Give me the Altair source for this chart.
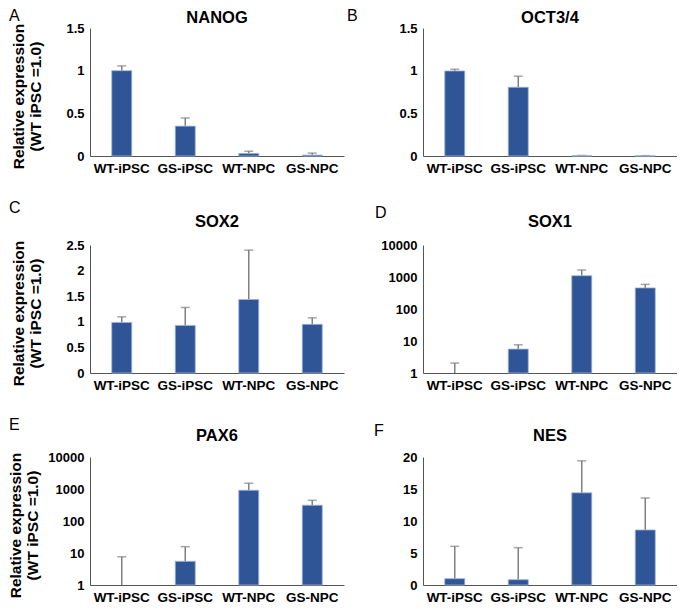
import altair as alt
import pandas as pd

FONT = "Liberation Sans"

categories = ["WT-iPSC", "GS-iPSC", "WT-NPC", "GS-NPC"]

genes = ["NANOG", "OCT3/4", "SOX2", "SOX1", "PAX6", "NES"]
letters = ["A", "B", "C", "D", "E", "F"]

nanog_mean = [1.0, 0.35, 0.03, 0.011]
nanog_err = [1.056, 0.446, 0.056, 0.034]
oct_mean = [0.997, 0.806, 0.003, 0.002]
oct_err = [1.017, 0.935, 0.006, 0.004]
sox2_mean = [0.987, 0.93, 1.435, 0.95]
sox2_err = [1.097, 1.28, 2.40, 1.078]
sox1_mean = [1.0, 5.6, 1096, 457]
sox1_err = [2.04, 7.6, 1660, 589]
pax6_mean = [1.0, 5.5, 915, 311]
pax6_err = [7.6, 15.8, 1510, 443]
nes_mean = [0.99, 0.83, 14.4, 8.6]
nes_err = [6.04, 5.83, 19.4, 13.6]

means = [nanog_mean, oct_mean, sox2_mean, sox1_mean, pax6_mean, nes_mean]
errs = [nanog_err, oct_err, sox2_err, sox1_err, pax6_err, nes_err]

y_domains = [[0, 1.5], [0, 1.5], [0, 2.5], [1, 10000], [1, 10000], [0, 20]]
y_ticks = [[0, 0.5, 1, 1.5], [0, 0.5, 1, 1.5], [0, 0.5, 1, 1.5, 2, 2.5],
           [1, 10, 100, 1000, 10000], [1, 10, 100, 1000, 10000], [0, 5, 10, 15, 20]]
is_log = [False, False, False, True, True, False]

# annotation placement (relative to each plot's top-left corner)
letter_pos = [(-81, -20), (-76, -20), (-81, -45), (-48, -40), (-81, -40), (-49, -34)]
title_dy = [-10, -10, -23, -23, -21, -21]
ytitle_pad = [22, 0, 22, 0, 7, 0]

BAR = "#2F5597"
ERR = "#808080"
W, H = 254, 128


def panel(i):
    base_val = 1 if is_log[i] else 0
    df = pd.DataFrame({
        "cat": categories,
        "mean": means[i],
        "err": errs[i],
        "base": [base_val] * 4,
    })
    if is_log[i]:
        scale = alt.Scale(type="log", domain=y_domains[i])
    else:
        scale = alt.Scale(domain=y_domains[i], nice=False)
    left = i % 2 == 0
    axis_kw = dict(
        values=y_ticks[i], format="d" if is_log[i] else "~g",
        labelFontSize=13, labelFontWeight="bold", labelFont=FONT, labelColor="black",
        ticks=False, grid=False, domainColor="#555555", domainWidth=1, labelPadding=6,
        labelOverlap=False,
    )
    if left:
        axis_kw.update(title=["Relative expression", "(WT iPSC =1.0)"],
                       titleFontSize=15.5, titleFontWeight="bold", titleFont=FONT,
                       titleColor="black", titlePadding=ytitle_pad[i], titleLineHeight=17,
                       titleY=H / 2 + 4, titleAlign="center")
    else:
        axis_kw.update(title=None)
    yaxis = alt.Axis(**axis_kw)
    xaxis = alt.Axis(
        title=None, labelAngle=0, labelFontSize=13.5, labelFontWeight="bold", labelFont=FONT,
        labelColor="black", ticks=False, grid=False, domainColor="#555555", domainWidth=1,
        labelPadding=5,
    )
    x = alt.X("cat:N", sort=categories, axis=xaxis,
              scale=alt.Scale(paddingInner=0.5, paddingOuter=0.25))
    c = alt.Chart(df)
    rule = c.mark_rule(color=ERR, strokeWidth=1.5).encode(
        x=x, y=alt.Y("mean:Q", scale=scale, axis=yaxis), y2="err:Q")
    cap = c.mark_tick(color=ERR, size=9, thickness=1.5, orient="horizontal").encode(
        x=x, y=alt.Y("err:Q", scale=scale, axis=yaxis))
    bars = c.mark_bar(color=BAR, size=20, stroke="#9fb4dc", strokeWidth=0.8).encode(
        x=x, y=alt.Y("mean:Q", scale=scale, axis=yaxis), y2="base:Q",
        strokeOpacity=alt.condition("datum.mean > datum.base * 1.05 + 0.001",
                                    alt.value(1), alt.value(0)))
    dx, dy = letter_pos[i]
    letter = alt.Chart(pd.DataFrame({"t": [letters[i]]})).mark_text(
        align="left", baseline="top", fontSize=16, font=FONT, color="black").encode(
        text="t:N", x=alt.value(dx), y=alt.value(dy))
    title = alt.Chart(pd.DataFrame({"t": [genes[i]]})).mark_text(
        align="center", baseline="middle", fontSize=16.5, fontWeight="bold", font=FONT,
        color="black").encode(
        text="t:N", x=alt.value(W / 2), y=alt.value(title_dy[i]))
    return alt.layer(rule, cap, bars, letter, title).properties(width=W, height=H)


chart = alt.concat(*[panel(i) for i in range(6)], columns=2,
                   spacing={"row": 25, "column": 3}).properties(
    padding=0, background="white").configure_view(strokeWidth=0, stroke=None)

chart.save("out.html", embed_options={"renderer": "svg", "actions": False})
